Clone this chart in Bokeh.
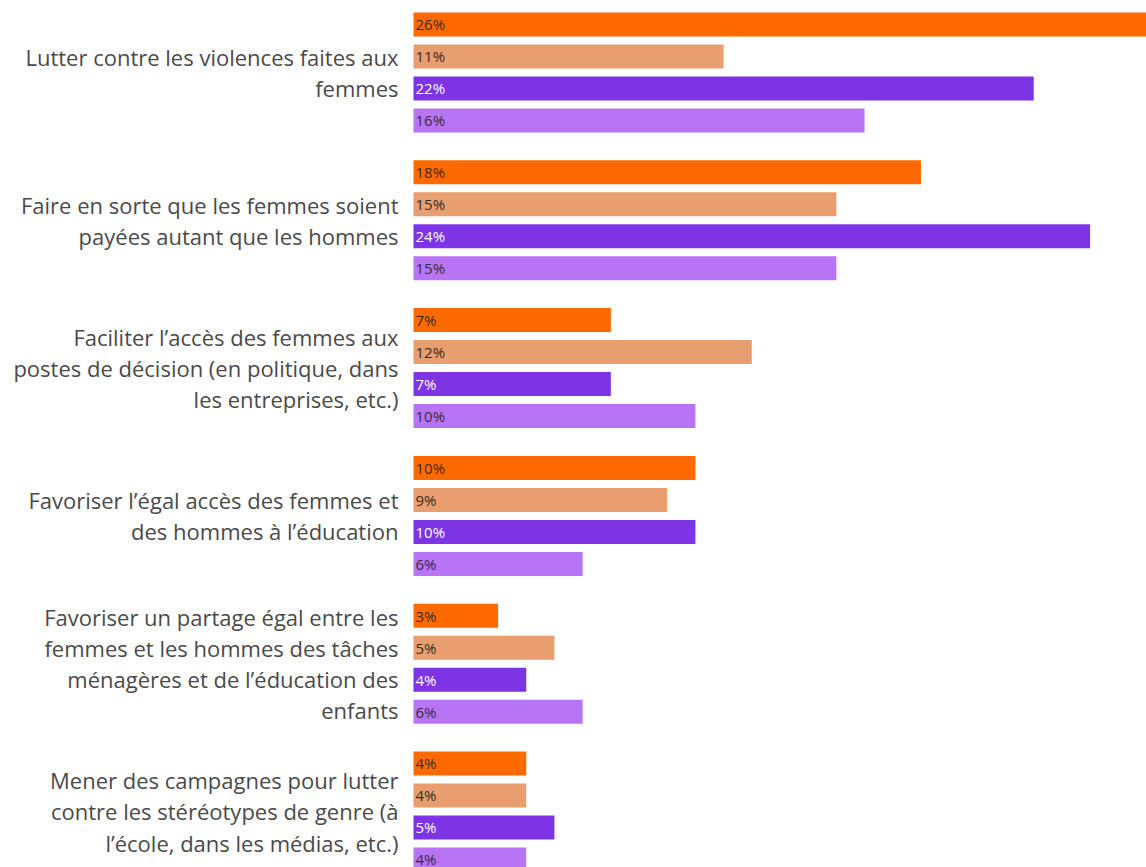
from bokeh.plotting import figure
from bokeh.models import ColumnDataSource, Range1d
from bokeh.embed import file_html
from bokeh.resources import INLINE
from bokeh.core.properties import value

categories = [
    "Lutter contre les violences faites aux\nfemmes",
    "Faire en sorte que les femmes soient\npayées autant que les hommes",
    "Faciliter l’accès des femmes aux\npostes de décision (en politique, dans\nles entreprises, etc.)",
    "Favoriser l’égal accès des femmes et\ndes hommes à l’éducation",
    "Favoriser un partage égal entre les\nfemmes et les hommes des tâches\nménagères et de l’éducation des\nenfants",
    "Mener des campagnes pour lutter\ncontre les stéréotypes de genre (à\nl’école, dans les médias, etc.)",
]
series1 = [26, 18, 7, 10, 3, 4]
series2 = [11, 15, 12, 9, 5, 4]
series3 = [22, 24, 7, 10, 4, 5]
series4 = [16, 15, 10, 6, 6, 4]
series = [series1, series2, series3, series4]

colors = ["#FF6A00", "#E99E70", "#7C34E4", "#B774F4"]
label_colors = ["#3a2a20", "#3a2a20", "#ffffff", "#3a2a40"]

W, H = 1146, 867
p = figure(width=W, height=H, output_backend="svg", toolbar_location=None,
           x_range=Range1d(-14.649, 26), y_range=Range1d(5.379, -0.487),
           min_border=0, outline_line_color=None)
p.axis.visible = False
p.grid.visible = False
p.background_fill_color = "white"
p.border_fill_color = "white"

step = 32 / 147.8
bar_h = 24 / 147.8
for k, vals in enumerate(series):
    ys = [i + (k - 1.5) * step for i in range(len(vals))]
    src = ColumnDataSource(dict(y=ys, v=vals, lab=[f"{v}%" for v in vals]))
    p.hbar(y="y", left=0, right="v", height=bar_h, source=src,
           fill_color=colors[k], line_color=None)
    p.text(x=0, y="y", text="lab", source=src, x_offset=2,
           text_font=value("Open Sans"), text_font_size="15px",
           text_color=label_colors[k], text_baseline="middle", text_align="left")

csrc = ColumnDataSource(dict(y=list(range(len(categories))), t=categories))
p.text(x=0, y="y", text="t", source=csrc, x_offset=-15,
       text_font=value("Open Sans"), text_font_size="22px",
       text_color="#4a4a4a", text_baseline="middle", text_align="right",
       text_line_height=1.04)

open("out.html", "w").write(file_html(p, INLINE))
